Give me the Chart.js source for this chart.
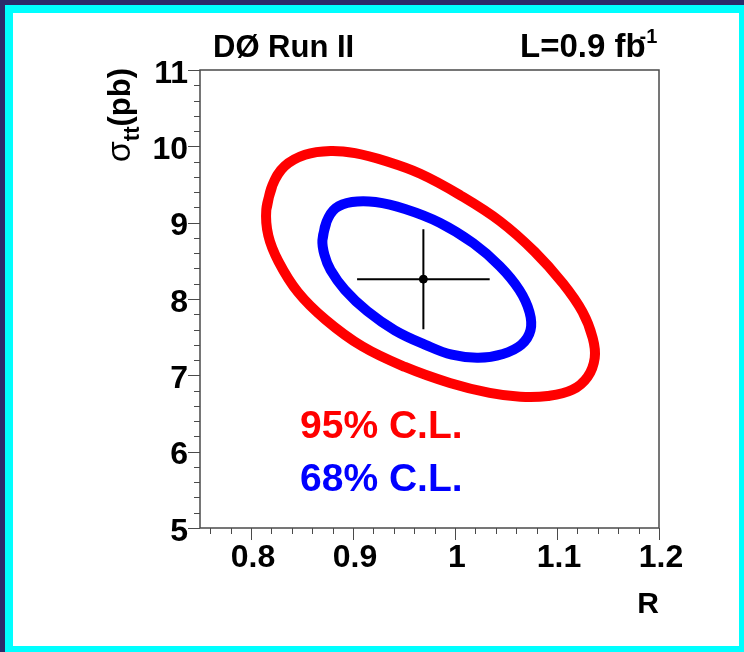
<!DOCTYPE html>
<html>
<head>
<meta charset="utf-8">
<script src="https://cdn.jsdelivr.net/npm/chart.js@4.4.1/dist/chart.umd.min.js"></script>
<style>
  html, body { margin: 0; padding: 0; background: #2c2c6a; }
  #frame {
    position: absolute; left: 5px; top: 5px;
    width: 726px; height: 633px;
    border-style: solid; border-color: #00ffff;
    border-width: 8px 5px 6px 8px;
    background: #ffffff;
  }
  canvas { display: block; }
</style>
</head>
<body>
<div id="frame"><canvas id="c" width="726" height="633"></canvas></div>
<script>
// 95% C.L. contour in the (R, sigma_tt) plane, clockwise from the left edge
const cl95R     = [0.815, 0.821, 0.833, 0.853, 0.878, 0.902, 0.931, 0.966, 1.005, 1.044, 1.078, 1.106, 1.125, 1.135, 1.137, 1.130, 1.115, 1.091, 1.064, 1.034, 0.995, 0.951, 0.909, 0.873, 0.846, 0.827, 0.817];
const cl95Sigma = [9.17,  9.49,  9.74,  9.89,  9.94,  9.91,  9.81,  9.64,  9.36,  9.02,  8.62,  8.20,  7.83,  7.49,  7.23,  6.98,  6.81,  6.73,  6.72,  6.77,  6.90,  7.11,  7.38,  7.73,  8.09,  8.49,  8.83];

// 68% C.L. contour, clockwise from the left edge
const cl68R     = [0.870, 0.874, 0.883, 0.899, 0.922, 0.951, 0.985, 1.018, 1.044, 1.063, 1.073, 1.074, 1.065, 1.047, 1.023, 0.997, 0.971, 0.941, 0.914, 0.892, 0.878, 0.872];
const cl68Sigma = [8.77,  9.01,  9.19,  9.27,  9.27,  9.18,  9.00,  8.73,  8.43,  8.12,  7.83,  7.59,  7.40,  7.28,  7.23,  7.27,  7.40,  7.59,  7.84,  8.12,  8.38,  8.58];

// best fit with its one-sigma errors
const fitR = 0.969, fitSigma = 8.26;
const fitErrR = 0.065, fitErrSigma = 0.655;

// axis ticks
const xTickValues = [0.8, 0.9, 1.0, 1.1, 1.2];
const yTickValues = [5, 6, 7, 8, 9, 10, 11];
const xMinorStep = 0.02, yMinorStep = 0.2;

const FONT = "'Liberation Sans', Arial, Helvetica, sans-serif";

// closed curve: repeat the first two points so the spline wraps smoothly
function closedCurve(xs, ys) {
  const pts = xs.map((x, i) => ({ x: x, y: ys[i] }));
  pts.push(pts[0], pts[1]);
  return pts;
}

const decorations = {
  id: 'decorations',
  beforeDatasetsDraw(chart) {
    const { ctx, scales: { x, y } } = chart;
    ctx.save();
    ctx.strokeStyle = '#000';
    ctx.lineWidth = 2;
    ctx.beginPath();
    ctx.moveTo(x.getPixelForValue(fitR - fitErrR), y.getPixelForValue(fitSigma));
    ctx.lineTo(x.getPixelForValue(fitR + fitErrR), y.getPixelForValue(fitSigma));
    ctx.moveTo(x.getPixelForValue(fitR), y.getPixelForValue(fitSigma + fitErrSigma));
    ctx.lineTo(x.getPixelForValue(fitR), y.getPixelForValue(fitSigma - fitErrSigma));
    ctx.stroke();
    ctx.restore();
  },
  afterDraw(chart) {
    const { ctx, chartArea: a, scales: { x, y } } = chart;
    ctx.save();
    // frame
    ctx.strokeStyle = '#4a4a4a';
    ctx.lineWidth = 1.5;
    ctx.strokeRect(a.left, a.top, a.right - a.left, a.bottom - a.top);

    // tick marks (outside the frame)
    ctx.lineWidth = 1;
    ctx.beginPath();
    for (let v = 0.76; v <= 1.2001; v += xMinorStep) {
      const px = Math.round(x.getPixelForValue(v)) + 0.5;
      const major = Math.abs(v * 10 - Math.round(v * 10)) < 1e-6;
      ctx.moveTo(px, a.bottom);
      ctx.lineTo(px, a.bottom + (major ? 12 : 6));
    }
    for (let v = 5; v <= 11.0001; v += yMinorStep) {
      const py = Math.round(y.getPixelForValue(v)) + 0.5;
      const major = Math.abs(v - Math.round(v)) < 1e-6;
      ctx.moveTo(a.left, py);
      ctx.lineTo(a.left - (major ? 12 : 6), py);
    }
    ctx.stroke();

    // header texts
    ctx.fillStyle = '#000';
    ctx.textBaseline = 'alphabetic';
    ctx.textAlign = 'left';
    ctx.font = 'bold 31px ' + FONT;
    ctx.fillText('DØ Run II', 200, 44);
    ctx.font = 'bold 33px ' + FONT;
    ctx.fillText('L=0.9 fb', 507, 44);
    const fbW = ctx.measureText('L=0.9 fb').width;
    ctx.font = 'bold 20px ' + FONT;
    ctx.fillText('-1', 507 + fbW - 6, 30);

    // x axis title
    ctx.font = 'bold 30px ' + FONT;
    ctx.textAlign = 'right';
    ctx.fillText('R', a.right, 600);

    // y axis title, rotated, ending at the top of the frame
    ctx.translate(117, a.top - 2);
    ctx.rotate(-Math.PI / 2);
    ctx.textAlign = 'left';
    const parts = [
      { t: 'σ', f: '34px ' + FONT, dy: 0 },
      { t: 'tt', f: 'bold 22px ' + FONT, dy: 9 },
      { t: '(pb)', f: 'bold 31px ' + FONT, dy: 0 }
    ];
    let total = 0;
    parts.forEach(p => { ctx.font = p.f; p.w = ctx.measureText(p.t).width; total += p.w; });
    let cx = -total;
    parts.forEach(p => { ctx.font = p.f; ctx.fillText(p.t, cx, p.dy); cx += p.w; });
    ctx.restore();

    // contour labels
    ctx.save();
    ctx.font = 'bold 39px ' + FONT;
    ctx.textAlign = 'left';
    ctx.fillStyle = '#ff0000';
    ctx.fillText('95% C.L.', a.left + 100, 425);
    ctx.fillStyle = '#0000ff';
    ctx.fillText('68% C.L.', a.left + 100, 478);
    ctx.restore();
  }
};

const tickFont = { family: FONT, size: 32, weight: 'bold' };

new Chart(document.getElementById('c'), {
  type: 'scatter',
  data: {
    datasets: [
      {
        data: closedCurve(cl95R, cl95Sigma),
        showLine: true, borderColor: '#ff0000', borderWidth: 10,
        tension: 0.4, pointRadius: 0, fill: false,
        borderCapStyle: 'round', borderJoinStyle: 'round'
      },
      {
        data: closedCurve(cl68R, cl68Sigma),
        showLine: true, borderColor: '#0000ff', borderWidth: 10,
        tension: 0.4, pointRadius: 0, fill: false,
        borderCapStyle: 'round', borderJoinStyle: 'round'
      },
      {
        data: [{ x: fitR, y: fitSigma }],
        showLine: false, pointRadius: 4,
        backgroundColor: '#000', borderColor: '#000'
      }
    ]
  },
  options: {
    responsive: false,
    animation: false,
    devicePixelRatio: 1,
    layout: { padding: { left: 0, top: 57, right: 80, bottom: 0 } },
    plugins: { legend: { display: false }, tooltip: { enabled: false } },
    scales: {
      x: {
        type: 'linear', min: 0.75, max: 1.2,
        grid: { display: false, drawTicks: false },
        border: { display: false },
        afterBuildTicks: s => { s.ticks = xTickValues.map(v => ({ value: v })); },
        afterFit: s => { s.height = 118; },
        ticks: {
          padding: 11, color: '#000', font: tickFont,
          maxRotation: 0, autoSkip: false, labelOffset: 2,
          callback: v => String(Math.round(v * 10) / 10)
        }
      },
      y: {
        type: 'linear', min: 5, max: 11,
        grid: { display: false, drawTicks: false },
        border: { display: false },
        afterBuildTicks: s => { s.ticks = yTickValues.map(v => ({ value: v })); },
        afterFit: s => { s.width = 187; },
        ticks: {
          padding: 12, color: '#000', font: tickFont,
          autoSkip: false, labelOffset: 4,
          callback: v => String(v)
        }
      }
    }
  },
  plugins: [decorations]
});
</script>
</body>
</html>
